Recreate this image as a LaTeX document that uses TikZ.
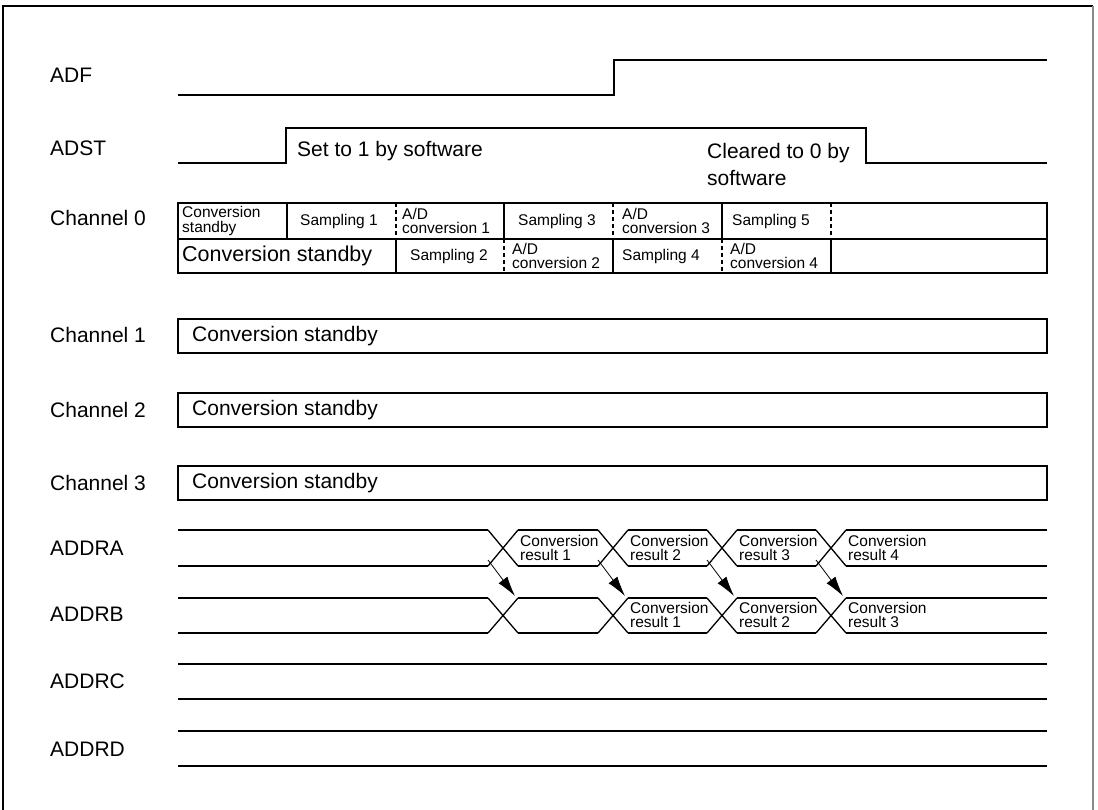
\documentclass[tikz,border=0pt]{standalone}
\usepackage{fontspec}
\setmainfont{Liberation Sans}
\usepackage{tikz}
\usetikzlibrary{arrows.meta,positioning}
\definecolor{framegray}{HTML}{8A8A8A}
\tikzset{
  siglabel/.style={
    font=\fontsize{21}{24}\selectfont, anchor=west, inner sep=0pt
  },
  bigtext/.style={
    font=\fontsize{21}{27}\selectfont, anchor=west, align=left, inner sep=0pt
  },
  celltext/.style={
    font=\fontsize{15.5}{14.5}\selectfont, anchor=west, align=left, inner sep=0pt
  },
  wave/.style={line width=1.3pt, line join=miter},
  cellsep/.style={line width=1.3pt},
  cellsepdash/.style={line width=1.3pt, dash pattern=on 4pt off 3pt},
  xferarrow/.style={-{Latex[length=20pt,width=11pt]}, line width=0.8pt},
  framestyle/.style={line width=1.2pt, draw=#1},
  framestyle/.default=black,
}

\begin{document}
\begin{tikzpicture}[x=1pt,y=-1pt]
  \useasboundingbox (0,0) rectangle (1098,810);

  % Outer frame (open at the bottom)
  \draw[framestyle] (3,810) -- (3,6) -- (1093,6);
  \draw[framestyle=framegray] (1093,6) -- (1093,810);

  % Signal names
  \node[siglabel] (adf)   at (50,75)  {ADF};
  \node[siglabel] (adst)  at (50,148) {ADST};
  \node[siglabel] (ch0)   at (50,218) {Channel 0};
  \node[siglabel] (ch1)   at (50,335) {Channel 1};
  \node[siglabel] (ch2)   at (50,410) {Channel 2};
  \node[siglabel] (ch3)   at (50,483) {Channel 3};
  \node[siglabel] (addra) at (50,548) {ADDRA};
  \node[siglabel] (addrb) at (50,614) {ADDRB};
  \node[siglabel] (addrc) at (50,681) {ADDRC};
  \node[siglabel] (addrd) at (50,749) {ADDRD};

  % ADF and ADST flags
  \draw[wave] (178,95) -- (614,95) -- (614,60) -- (1047,60);
  \draw[wave] (178,163) -- (286,163) -- (286,128) -- (866,128) -- (866,163) -- (1047,163);
  \node[bigtext] (setsw) at (297,151) {Set to 1 by software};
  \node[bigtext] (clrsw) at (707,164.5) {Cleared to 0 by\\software};

  % Channel 0: two sample-and-hold rows
  \draw[wave] (178,203) rectangle (1047,273);
  \draw[wave] (178,239) -- (1047,239);
  \foreach \x in {287,504,722} \draw[cellsep] (\x,203) -- (\x,239);
  \foreach \x in {396,613,831} \draw[cellsepdash] (\x,203) -- (\x,239);
  \foreach \x in {396,613,831} \draw[cellsep] (\x,239) -- (\x,273);
  \foreach \x in {504,722} \draw[cellsepdash] (\x,239) -- (\x,273);

  \node[celltext] (c0a) at (182,221) {Conversion\\standby};
  \node[celltext] (c0b) at (300,221) {Sampling 1};
  \node[celltext] (c0c) at (402,221) {A/D\\conversion 1};
  \node[celltext] (c0d) at (518,221) {Sampling 3};
  \node[celltext] (c0e) at (622,221) {A/D\\conversion 3};
  \node[celltext] (c0f) at (732,221) {Sampling 5};
  \node[bigtext]  (c0g) at (182,256) {\fontsize{21.5}{27}\selectfont Conversion standby};
  \node[celltext] (c0h) at (410,256) {Sampling 2};
  \node[celltext] (c0i) at (512,256) {A/D\\conversion 2};
  \node[celltext] (c0j) at (622,256) {Sampling 4};
  \node[celltext] (c0k) at (730,256) {A/D\\conversion 4};

  % Channels 1 to 3
  \foreach \y/\n in {319/1,393/2,466/3} {
    \draw[wave] (178,\y) rectangle (1047,\y+34);
    \node[bigtext] (chtxt\n) at (192,\y+17) {Conversion standby};
  }

  % ADDRA / ADDRB data buses
  \foreach \yt/\yb in {530/566,598/633} {
    \draw[wave] (178,\yt) -- (488,\yt) (178,\yb) -- (488,\yb);
    \foreach \xa/\xb in {503/613,613/722,722/831}
      \draw[wave] (\xa+15,\yt) -- (\xb-15,\yt) (\xa+15,\yb) -- (\xb-15,\yb);
    \foreach \xc in {503,613,722,831}
      \draw[wave] (\xc-15,\yt) -- (\xc+15,\yb) (\xc-15,\yb) -- (\xc+15,\yt);
    \draw[wave] (846,\yt) -- (1047,\yt) (846,\yb) -- (1047,\yb);
  }
  \foreach \xc [count=\i] in {503,613,722,831}
    \node[celltext] (ra\i) at (\xc+17,548) {Conversion\\result \i};
  \foreach \xc [count=\i] in {613,722,831}
    \node[celltext] (rb\i) at (\xc+17,615) {Conversion\\result \i};

  % Transfer ADDRA -> ADDRB
  \foreach \xc [count=\i] in {503,613,722,831} {
    \coordinate (xfs\i) at (\xc-15,560);
    \coordinate (xfe\i) at (\xc+12,596);
    \draw[xferarrow] (xfs\i) -- (xfe\i);
  }

  % ADDRC / ADDRD
  \foreach \y in {664,699,731,766} \draw[wave] (178,\y) -- (1047,\y);
\end{tikzpicture}
\end{document}
